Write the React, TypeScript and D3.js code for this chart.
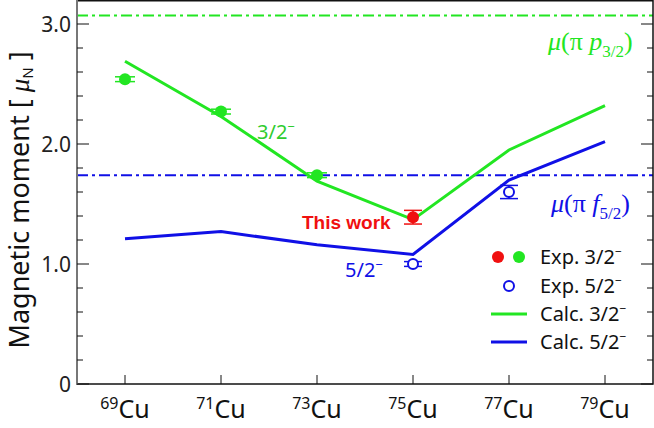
import React from "react";
import * as d3 from "d3";

const isotopes = [69, 71, 73, 75, 77, 79];
const calc32 = [2.69, 2.23, 1.69, 1.37, 1.95, 2.32];
const calc52 = [1.21, 1.27, 1.16, 1.08, 1.7, 2.02];

const exp32Mass = [69, 71, 73];
const exp32Val = [2.54, 2.27, 1.74];
const exp32Err = [0.02, 0.02, 0.02];
const thisWorkMass = [75];
const thisWorkVal = [1.39];
const thisWorkErr = [0.057];
const exp52Mass = [75, 77];
const exp52Val = [1.0, 1.6];
const exp52Err = [0.02, 0.055];

const schmidtP32 = 3.07;
const schmidtF52 = 1.74;
const yTicks = [0, 1, 2, 3];
const yTickLabels = ["0", "1.0", "2.0", "3.0"];

const W = 654;
const H = 428;
const M = { left: 77, right: 1, top: 0, bottom: 44 };
const FONT = "'Noto Sans', 'Open Sans', sans-serif";
const GREEN = "#22e622";
const BLUE = "#1010e6";
const RED = "#f01010";

export default function App() {
  const x = d3.scaleLinear().domain([68, 80]).range([M.left, W - M.right]);
  const y = d3.scaleLinear().domain([0, 3.2]).range([H - M.bottom, M.top]);
  const line = d3
    .line<[number, number]>()
    .x((d) => x(d[0]))
    .y((d) => y(d[1]));
  const minor = d3.range(0, 3.2, 0.2).filter((v) => Math.abs(v - Math.round(v)) > 0.01);

  const errBar = (m: number, v: number, e: number, color: string, key: string, w = 9) => (
    <g key={key} stroke={color} strokeWidth={1.5}>
      <line x1={x(m)} x2={x(m)} y1={y(v - e)} y2={y(v + e)} />
      <line x1={x(m) - w} x2={x(m) + w} y1={y(v - e)} y2={y(v - e)} />
      <line x1={x(m) - w} x2={x(m) + w} y1={y(v + e)} y2={y(v + e)} />
    </g>
  );

  return (
    <svg width={W} height={H} style={{ position: "absolute", left: 0, top: 0 }} fontFamily={FONT}>
      {/* reference lines */}
      <line x1={M.left} x2={W - M.right} y1={y(schmidtP32)} y2={y(schmidtP32)} stroke={GREEN} strokeWidth={2} strokeDasharray="11 4 3 4" />
      <line x1={M.left} x2={W - M.right} y1={y(schmidtF52)} y2={y(schmidtF52)} stroke={BLUE} strokeWidth={2} strokeDasharray="11 4 3 4" />

      {/* calc lines */}
      <path d={line(isotopes.map((m, i) => [m, calc32[i]]))!} fill="none" stroke={GREEN} strokeWidth={3} />
      <path d={line(isotopes.map((m, i) => [m, calc52[i]]))!} fill="none" stroke={BLUE} strokeWidth={3} />

      {/* experiment */}
      {exp32Mass.map((m, i) => (
        <g key={"g" + m}>
          {errBar(m, exp32Val[i], exp32Err[i], GREEN, "ge" + m, 10)}
          <circle cx={x(m)} cy={y(exp32Val[i])} r={6} fill={GREEN} />
        </g>
      ))}
      {thisWorkMass.map((m, i) => (
        <g key={"r" + m}>
          {errBar(m, thisWorkVal[i], thisWorkErr[i], RED, "re" + m)}
          <circle cx={x(m)} cy={y(thisWorkVal[i])} r={6} fill={RED} />
        </g>
      ))}
      {exp52Mass.map((m, i) => (
        <g key={"b" + m}>
          {errBar(m, exp52Val[i], exp52Err[i], BLUE, "be" + m)}
          <circle cx={x(m)} cy={y(exp52Val[i])} r={5} fill="white" stroke={BLUE} strokeWidth={2} />
        </g>
      ))}

      {/* annotations */}
      <text x={257} y={139} fill="#2ecc2e" fontSize={20}>3/2<tspan dy={-8} fontSize={13}>−</tspan></text>
      <text x={345} y={277} fill={BLUE} fontSize={20}>5/2<tspan dy={-8} fontSize={13}>−</tspan></text>
      <text x={302} y={229} fill={RED} fontSize={19} fontWeight="bold" fontFamily="'Liberation Sans', Arial, sans-serif">This work</text>
      <text x={548} y={50} fill={GREEN} fontSize={26} fontFamily="'Liberation Serif', serif">
        <tspan fontStyle="italic">μ</tspan>(π <tspan fontStyle="italic">p</tspan>
        <tspan dy={7} fontSize={17}>3/2</tspan>
        <tspan dy={-7}>)</tspan>
      </text>
      <text x={551} y={212} fill={BLUE} fontSize={26} fontFamily="'Liberation Serif', serif">
        <tspan fontStyle="italic">μ</tspan>(π <tspan fontStyle="italic">f</tspan>
        <tspan dy={7} fontSize={17}>5/2</tspan>
        <tspan dy={-7}>)</tspan>
      </text>

      {/* legend */}
      <g fontSize={20} fill="#111">
        <circle cx={498} cy={257} r={6} fill={RED} />
        <circle cx={519} cy={257} r={6} fill={GREEN} />
        <text x={540} y={264}>Exp. 3/2<tspan dy={-8} fontSize={12}>−</tspan></text>
        <circle cx={509} cy={286} r={5} fill="white" stroke={BLUE} strokeWidth={2} />
        <text x={540} y={293}>Exp. 5/2<tspan dy={-8} fontSize={12}>−</tspan></text>
        <line x1={491} x2={527} y1={314} y2={314} stroke={GREEN} strokeWidth={3} />
        <text x={540} y={321}>Calc. 3/2<tspan dy={-8} fontSize={12}>−</tspan></text>
        <line x1={491} x2={527} y1={342} y2={342} stroke={BLUE} strokeWidth={3} />
        <text x={540} y={349}>Calc. 5/2<tspan dy={-8} fontSize={12}>−</tspan></text>
      </g>

      {/* frame */}
      <rect x={M.left} y={M.top + 0.75} width={W - M.right - M.left} height={H - M.bottom - M.top - 0.75} fill="none" stroke="#111" strokeWidth={1.5} />
      <line x1={M.left} x2={M.left} y1={M.top} y2={H - M.bottom} stroke="#777" strokeWidth={2} />

      {/* y ticks */}
      {yTicks.map((t, i) => (
        <g key={"yt" + t}>
          <line x1={M.left} x2={M.left + 12} y1={y(t)} y2={y(t)} stroke="#111" />
          <line x1={W - M.right - 12} x2={W - M.right} y1={y(t)} y2={y(t)} stroke="#111" />
          <text x={M.left - 6} y={y(t)} dy="0.36em" textAnchor="end" fontSize={21} fill="#222">{yTickLabels[i]}</text>
        </g>
      ))}
      {minor.map((t) => (
        <g key={"ym" + t}>
          <line x1={M.left} x2={M.left + 6} y1={y(t)} y2={y(t)} stroke="#111" />
          <line x1={W - M.right - 6} x2={W - M.right} y1={y(t)} y2={y(t)} stroke="#111" />
        </g>
      ))}

      {/* x ticks */}
      {isotopes.map((m) => (
        <g key={"xt" + m}>
          <line x1={x(m)} x2={x(m)} y1={H - M.bottom} y2={H - M.bottom - 9} stroke="#111" />
          <text x={x(m)} y={H - 10} textAnchor="middle" fontSize={25} fill="#111">
            <tspan fontSize={16} dy={-9}>{m}</tspan>
            <tspan dy={9}>Cu</tspan>
          </text>
        </g>
      ))}

      {/* y label */}
      <text transform={`translate(29, ${(M.top + H - M.bottom) / 2 + 8}) rotate(-90)`} textAnchor="middle" fontSize={27} fill="#111">
        Magnetic moment [ <tspan fontStyle="italic" fontFamily="'Liberation Serif', serif">μ</tspan>
        <tspan fontSize={15} dy={4}>N</tspan>
        <tspan dy={-4}> ]</tspan>
      </text>
    </svg>
  );
}
